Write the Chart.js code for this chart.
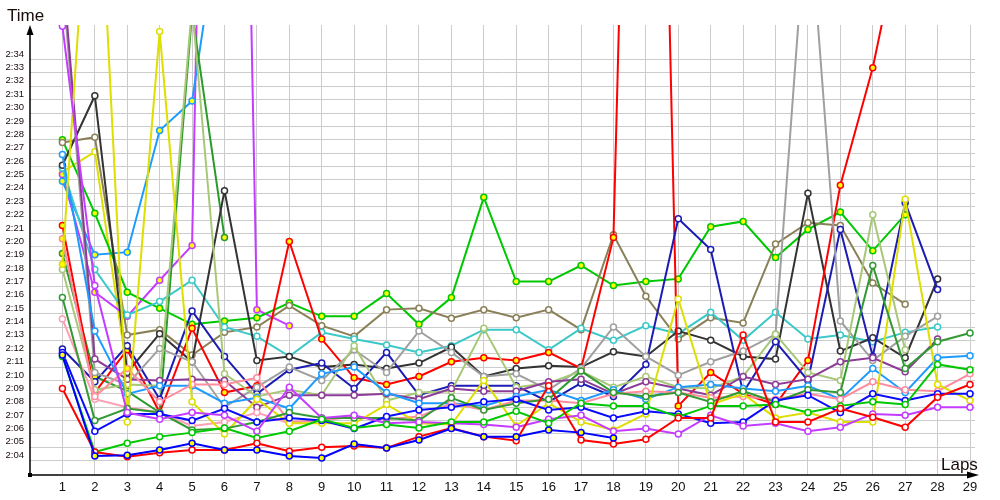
<!DOCTYPE html>
<html><head><meta charset="utf-8">
<script src="https://cdn.jsdelivr.net/npm/chart.js@4/dist/chart.umd.min.js"></script>
<style>html,body{margin:0;padding:0;background:#fff}</style>
</head><body>
<canvas id="c" width="1000" height="500"></canvas>
<script>
// ---- data (lap times in seconds) ----
const laps = [1,2,3,4,5,6,7,8,9,10,11,12,13,14,15,16,17,18,19,20,21,22,23,24,25,26,27,28,29];
const yTickValues = [124,125,126,127,128,129,130,131,132,133,134,135,136,137,138,139,140,141,142,143,144,145,146,147,148,149,150,151,152,153,154];

const blueLead  = [131.9,124.35,124.4,124.8,125.3,124.8,124.8,124.35,124.2,125.25,124.95,125.55,126.4,125.8,125.8,126.3,126.1,125.7];
const redLow    = [129.4,124.65,124.3,124.6,124.8,124.8,125.3,124.7,125.0,125.1,124.95,125.8,126.45,125.8,125.5,129.6,125.55,125.25,125.6,127.2,127.2,133.4,126.9,126.9,127.9,127.25,126.5,128.75,129.7];
const redHigh   = [141.6,129.1,132.3,127.6,133.9,129.1,129.6,140.4,133.1,130.2,129.7,130.3,131.4,131.7,131.5,132.1,130.9,140.7,235,128.1,130.6,129.0,128.2,131.5,144.6,153.4,165];
const navy      = [132.35,129.9,132.6,128.6,135.2,131.8,129.0,130.8,131.3,129.4,132.1,128.9,129.6,129.6,129.6,128.4,129.8,128.8,131.2,142.1,139.8,129.1,132.9,130.0,141.3,131.8,143.3,136.8];
const blueMid   = [132.1,126.2,127.5,127.5,127.0,127.9,126.9,127.2,127.0,126.4,127.3,127.8,128.0,128.4,128.6,127.8,128.0,127.2,127.7,127.5,126.8,126.9,128.5,128.9,127.6,129.0,128.5,129.0,129.0];
const greenTop  = [148.0,142.5,136.6,135.4,134.2,134.45,134.7,135.8,134.8,134.8,136.5,134.2,136.2,143.7,137.4,137.4,138.6,137.1,137.4,137.6,141.5,141.9,139.2,141.3,142.6,139.7,142.4];
const greenLow  = [131.8,124.65,125.3,125.8,126.1,126.45,125.7,126.2,127.1,126.45,126.7,126.45,126.9,126.9,127.7,126.8,128.3,128.1,128.1,127.3,128.1,128.1,128.2,127.6,128.1,128.4,128.2,131.2,130.8];
const darkGreen = [136.2,127.0,127.9,127.6,126.3,126.4,126.9,127.6,127.2,127.2,127.2,127.0,128.7,127.8,128.3,128.6,130.7,129.1,128.8,129.1,128.4,129.2,128.4,129.3,129.1,138.6,130.9,132.9,133.55];
const greenSpike= [139.5,130.3,129.2,127.6,157.5,140.7];
const olive     = [147.8,148.2,133.4,133.8,131.9,133.6,134.0,135.6,134.1,133.3,135.3,135.4,134.65,135.3,134.7,135.3,133.8,140.9,136.3,133.1,134.7,134.3,140.2,141.8,141.6,137.3,135.7];
const darkGray  = [146.1,151.3,130.6,133.5,131.4,144.2,131.5,131.8,131.0,131.2,130.9,131.3,132.5,130.3,130.9,131.1,131.0,132.15,131.8,133.7,133.0,131.8,131.6,144.0,132.2,133.2,131.7,137.6];
const gray      = [160,130.6,129.7,132.4,131.4,128.0,129.5,131.0,130.0,132.3,130.6,133.7,132.1,130.3,130.5,129.3,130.9,134.0,131.8,130.4,131.4,132.2,133.45,166.5,134.45,131.5,133.3,134.8];
const cyan      = [145.9,138.3,134.9,135.9,137.5,134.0,133.3,131.8,133.6,133.1,132.65,132.1,132.6,133.8,133.8,132.3,133.9,133.0,134.1,133.5,135.1,133.0,135.1,133.1,133.4,132.9,133.6,134.0];
const skyFast   = [144.9,139.4,139.6,148.7,150.9,167];
const skyBlue   = [146.9,133.7,129.0,129.6,129.6,128.3,128.7,127.9,130.5,131.0,129.1,128.3,128.3,128.1,128.8,129.3,128.5,129.3,128.6,129.5,129.7,129.4,129.2,129.6,128.6,130.9,129.1,131.7,131.85];
const violetA   = [156.5,137.1,127.6,127.1,127.6,127.4,126.2,129.5,127.2,127.4,126.8,126.9,126.8,126.7,126.5,127.1,127.4,126.2,126.4,126.0,127.4,126.6,126.8,126.2,126.5,127.5,127.4,128.0,128.0];
const violetB   = [145.4,136.6,134.8,137.5,140.1,260,135.3,134.1];
const purple    = [161,131.6,130.1,130.0,130.1,130.0,128.0,128.9,128.9,128.9,129.0,128.6,129.4,129.2,129.2,129.9,130.1,129.0,129.9,129.4,128.9,130.3,129.7,130.1,131.4,131.7,130.65,133.1];
const pink      = [140.6,128.8,130.9,128.4,129.7,129.7,130.2,126.9,127.0,127.3,127.1,127.3,128.3,127.8,128.5,128.5,128.3,129.0,129.2,129.1,128.7,128.8,128.6,129.0,128.6,129.9,129.3,129.2,130.5];
const lightPink = [134.6,128.6,128.0,127.6,126.6,126.9,127.6,126.8];
const yellowA   = [138.7,175,126.9,156.1,128.4,126.0,128.6,126.8,126.8,126.8,128.2,126.8,126.7,130.0,126.6,128.3,126.9,126.3,127.5,136.1,128.2,129.0,127.2,127.6,126.9,126.9,143.55,129.7,128.5];
const yellowB   = [145.6,147.1,130.6];
const lightGreen= [138.3,129.3,129.7,129.6,158,130.5,128.8,129.3,128.9,132.6,128.5,129.1,129.2,133.9,129.5,129.8,130.7,129.5,130.3,129.5,129.4,130.3,133.45,130.6,130.0,142.4,132.3];

// laps whose marker is filled yellow
const pinkYellowLaps = [1, 3];
const yellowAYellowLaps = [1];
const yellowBYellowLaps = [3];

// ---- styling ----
const FILL = '#ffff00', HOLLOW = '#ffffff';
const seriesDefs = [
  {data: blueLead,   color: '#0000ff', fill: 'all'},
  {data: redLow,     color: '#ff0000', fill: 'none'},
  {data: greenLow,   color: '#00c800', fill: 'none'},
  {data: violetA,    color: '#c43cff', fill: 'none'},
  {data: blueMid,    color: '#0a0aff', fill: 'none'},
  {data: darkGreen,  color: '#339a33', fill: 'none'},
  {data: yellowA,    color: '#dede00', fill: yellowAYellowLaps},
  {data: pink,       color: '#ff8ca0', fill: pinkYellowLaps},
  {data: lightPink,  color: '#ffa0b4', fill: 'none'},
  {data: skyBlue,    color: '#1e9bff', fill: 'none'},
  {data: purple,     color: '#8c3c96', fill: 'none'},
  {data: lightGreen, color: '#a8c878', fill: 'none'},
  {data: gray,       color: '#a0a0a0', fill: 'none'},
  {data: navy,       color: '#1c1cb4', fill: 'none'},
  {data: redHigh,    color: '#ff0000', fill: 'all'},
  {data: darkGray,   color: '#333333', fill: 'none'},
  {data: cyan,       color: '#3cc8c8', fill: 'none'},
  {data: olive,      color: '#8a8058', fill: 'none'},
  {data: greenTop,   color: '#00c800', fill: 'all'},
  {data: greenSpike, color: '#2a9a2a', fill: 'all'},
  {data: skyFast,    color: '#1e9bff', fill: 'all'},
  {data: violetB,    color: '#c43cff', fill: 'all'},
  {data: yellowB,    color: '#dede00', fill: yellowBYellowLaps}
];

const datasets = seriesDefs.map(d => ({
  data: d.data.map((v, i) => ({x: laps[i], y: v})),
  borderColor: d.color,
  backgroundColor: d.color,
  pointBorderColor: d.color,
  pointBackgroundColor: d.data.map((v, i) =>
    d.fill === 'all' ? FILL : (Array.isArray(d.fill) && d.fill.includes(laps[i]) ? FILL : HOLLOW)),
  borderWidth: 2,
  pointRadius: 3,
  pointBorderWidth: 1.5,
  tension: 0
}));

const fmt = v => Math.floor(v / 60) + ':' + String(Math.round(v % 60)).padStart(2, '0');

const decor = {
  id: 'decor',
  afterDraw(chart) {
    const {ctx, chartArea: {left, top, bottom}} = chart;
    ctx.save();
    ctx.strokeStyle = '#000'; ctx.fillStyle = '#000'; ctx.lineWidth = 1.5;
    ctx.beginPath(); ctx.moveTo(left, bottom); ctx.lineTo(left, top + 6); ctx.stroke();
    ctx.beginPath(); ctx.moveTo(left, top); ctx.lineTo(left - 3.5, top + 10); ctx.lineTo(left + 3.5, top + 10); ctx.closePath(); ctx.fill();
    ctx.beginPath(); ctx.moveTo(left, bottom); ctx.lineTo(972, bottom); ctx.stroke();
    ctx.beginPath(); ctx.moveTo(979, bottom); ctx.lineTo(967, bottom - 3.5); ctx.lineTo(967, bottom + 3.5); ctx.closePath(); ctx.fill();
    ctx.fillRect(left - 2, bottom - 2, 4, 4);
    ctx.fillStyle = '#1a0a0a';
    ctx.font = '17px "Liberation Sans", Arial, sans-serif';
    ctx.textBaseline = 'alphabetic'; ctx.textAlign = 'left';
    ctx.fillText('Time', 7, 21);
    ctx.fillText('Laps', 941, 470);
    ctx.restore();
  }
};

new Chart(document.getElementById('c'), {
  type: 'line',
  data: {datasets},
  plugins: [decor],
  options: {
    responsive: false, animation: false, devicePixelRatio: 1,
    layout: {padding: {left: 0, top: 25, right: 25, bottom: 0}},
    plugins: {legend: {display: false}, tooltip: {enabled: false}},
    scales: {
      x: {
        type: 'linear', min: 0, max: 29.154,
        afterBuildTicks: s => { s.ticks = laps.map(v => ({value: v})); },
        afterFit: s => { s.height = 25; },
        grid: {color: '#cccccc', lineWidth: 1, drawTicks: false},
        border: {display: false},
        ticks: {autoSkip: false, maxRotation: 0, padding: 5, color: '#111',
                font: {family: '"Liberation Sans", Arial, sans-serif', size: 13},
                callback: v => String(v)}
      },
      y: {
        type: 'linear', min: 122.93, max: 156.59,
        afterBuildTicks: s => { s.ticks = yTickValues.map(v => ({value: v})); },
        afterFit: s => { s.width = 30; },
        grid: {color: '#cccccc', lineWidth: 1, drawTicks: false},
        border: {display: false},
        ticks: {padding: 6, labelOffset: -5.5, color: '#1a0a0a',
                font: {family: '"Liberation Sans", Arial, sans-serif', size: 9.5},
                callback: v => fmt(v)}
      }
    }
  }
});
</script>
</body></html>
